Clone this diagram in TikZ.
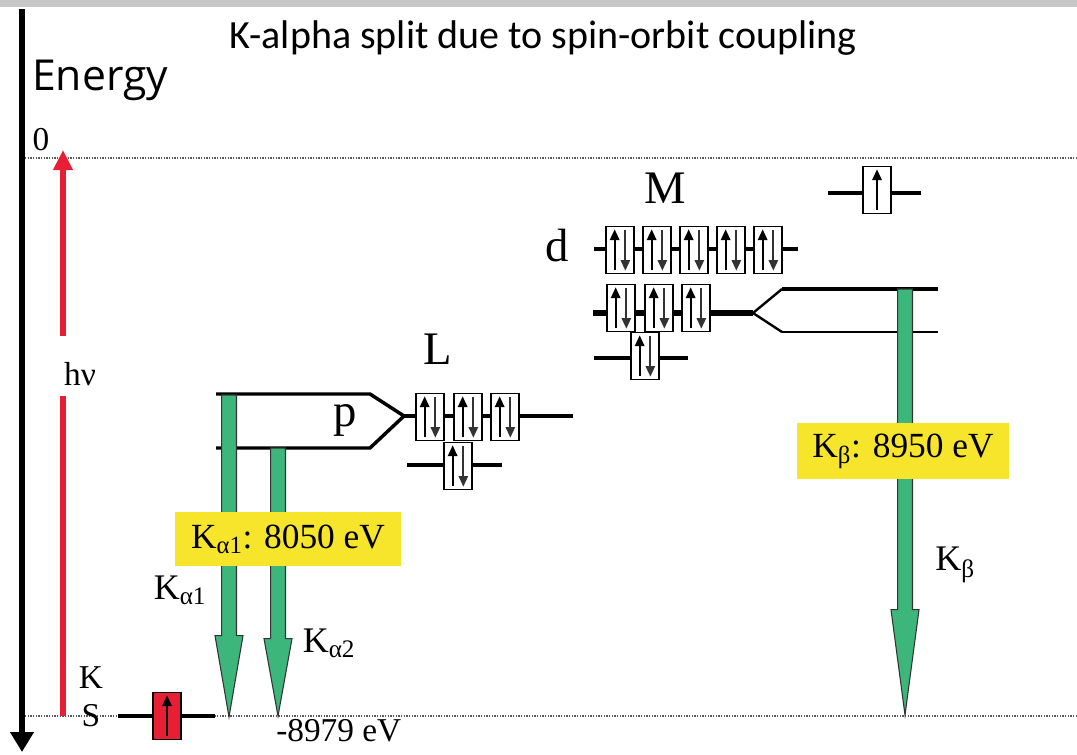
\documentclass[tikz,border=0pt]{standalone}
\usepackage{fontspec}
\setmainfont{Liberation Serif}
\newfontfamily\titlefont{Carlito}
\newfontfamily\axisfont{Open Sans}
\usetikzlibrary{arrows.meta,positioning}

\definecolor{xgreen}{RGB}{60,182,122}
\definecolor{xyellow}{RGB}{247,229,44}
\definecolor{xred}{RGB}{232,30,52}

\tikzset{
  level/.style={line width=3pt},
  forkline/.style={line width=2.2pt, line join=miter},
  zeroline/.style={dash pattern=on 1pt off 1pt, line width=1.3pt, black!65},
  ebox/.style={draw, fill=white, line width=1pt, minimum width=21pt, minimum height=35pt, inner sep=0pt},
  spinup/.style={-{Triangle[length=8pt,width=7pt]}, line width=1.4pt},
  spindown/.style={-{Triangle[length=8pt,width=7pt]}, line width=1.4pt, black!80},
  lbl/.style={font=\fontsize{25}{28}\selectfont, inner sep=0pt},
  shell/.style={font=\fontsize{35}{38}\selectfont, inner sep=0pt},
  energybox/.style={fill=xyellow, font=\fontsize{26.5}{30}\selectfont, inner sep=0pt},
  xray/.style={fill=xgreen, draw=black!80, line width=0.8pt, line join=miter},
}

% box with two electrons
\newcommand{\epair}[3]{%
  \node[ebox] (#1) at (#2,#3) {};
  \draw[spinup] ([xshift=-4pt,yshift=-15pt]#1.center) -- ([xshift=-4pt,yshift=15.5pt]#1.center);
  \draw[spindown] ([xshift=4pt,yshift=15pt]#1.center) -- ([xshift=4pt,yshift=-15.5pt]#1.center);
}
% box with one electron
\newcommand{\esingle}[4][white]{%
  \node[ebox, fill=#1] (#2) at (#3,#4) {};
  \draw[spinup] ([yshift=-15pt]#2.center) -- ([yshift=15.5pt]#2.center);
}
% fat x-ray arrow from top coordinate to tip coordinate
\newcommand{\xray}[3]{%
  \filldraw[xray] ([xshift=-5.6pt]#1) -- ([xshift=5.6pt]#1) -- ([xshift=5.6pt,yshift=#3]#2)
    -- ([xshift=10.5pt,yshift=#3]#2) -- (#2) -- ([xshift=-10.5pt,yshift=#3]#2)
    -- ([xshift=-5.6pt,yshift=#3]#2) -- cycle;
}

\begin{document}
\begin{tikzpicture}[x=0.75pt,y=-0.75pt]
  \useasboundingbox (0,0) rectangle (1077,754);
  \fill[black!22] (0,0) rectangle (1077,7);

  % energy axis
  \draw[line width=3.8pt, -{Triangle[length=15pt,width=17pt]}] (22,9) -- (22,752);
  \node[font=\axisfont\fontsize{32}{34}\selectfont, anchor=west, inner sep=0pt] (energy) at (32,80) {Energy};
  \node[lbl] (zero) at (41,140) {0};
  \node[font=\titlefont\fontsize{30}{34}\selectfont] (title) at (543,38) {K-alpha split due to spin-orbit coupling};

  % vacuum level and K level
  \draw[zeroline] (25,158) -- (1077,158);
  \draw[zeroline] (25,716) -- (1077,716);

  % photon
  \node[lbl] (hnu) at (80,374) {hν};
  \draw[xred, line width=4.5pt, -{Triangle[length=15pt,width=14pt]}] (63,336) -- (63,150);
  \draw[xred, line width=4.5pt] (63,396) -- (63,716);

  % K shell
  \node[lbl] (Klbl) at (91,678) {K};
  \node[lbl] (Slbl) at (91,716) {S};
  \draw[level, line width=3.5pt] (118,716) -- (215,716);
  \esingle[xred]{ks}{167}{716}
  \node[lbl, anchor=west] (Kev) at (276,731) {-8979 eV};

  % L shell
  \node[shell] (Llbl) at (438,349) {L};
  \node[shell] (plbl) at (345,420) {p};
  \draw[forkline, line width=2.6pt] (216,394) -- (370,394) -- (404,416) -- (370,448) -- (216,448);
  \draw[level] (404,416) -- (573,416);
  \draw[level] (407,465) -- (502,465);
  \epair{lp1}{430}{417}
  \epair{lp2}{468}{417}
  \epair{lp3}{505}{417}
  \epair{ls}{458}{466}

  % M shell
  \node[shell] (Mlbl) at (665,188) {M};
  \node[shell] (dlbl) at (557,246) {d};
  \draw[level] (594,249) -- (798,249);
  \foreach \i/\x in {1/620,2/657,3/694,4/731,5/768}
    \epair{md\i}{\x}{250}
  \draw[level, line width=4pt] (593,313) -- (753,313);
  \draw[forkline, line width=1.8pt] (782,289) -- (753,313) -- (782,332);
  \draw[forkline, line width=2.6pt] (782,289) -- (938,289);
  \draw[forkline] (782,332) -- (938,332);
  \epair{mp1}{621}{308}
  \epair{mp2}{659}{308}
  \epair{mp3}{696}{308}
  \draw[level] (594,358) -- (688,358);
  \epair{ms}{645}{356}

  % N shell
  \draw[level] (828,193) -- (921,193);
  \esingle{ns}{877}{190}

  % transitions
  \coordinate (a1top) at (229,395);
  \coordinate (a1tip) at (229,717);
  \coordinate (a2top) at (278,448);
  \coordinate (a2tip) at (278,716);
  \coordinate (btop) at (905,289);
  \coordinate (btip) at (905,715);
  \xray{a1top}{a1tip}{61pt}
  \xray{a2top}{a2tip}{58pt}
  \xray{btop}{btip}{79pt}

  \node[energybox, minimum width=170pt, minimum height=40pt] (ea1) at (288,539) {K\textsubscript{α1}: 8050 eV};
  \node[energybox, minimum width=159pt, minimum height=42pt] (eb) at (903,451) {K\textsubscript{β}: 8950 eV};
  \node[lbl, font=\fontsize{27}{30}\selectfont] (ka1) at (180,590) {K\textsubscript{α1}};
  \node[lbl, font=\fontsize{27}{30}\selectfont] (ka2) at (329,643) {K\textsubscript{α2}};
  \node[lbl, font=\fontsize{27}{30}\selectfont] (kb) at (955,565) {K\textsubscript{β}};
\end{tikzpicture}
\end{document}
